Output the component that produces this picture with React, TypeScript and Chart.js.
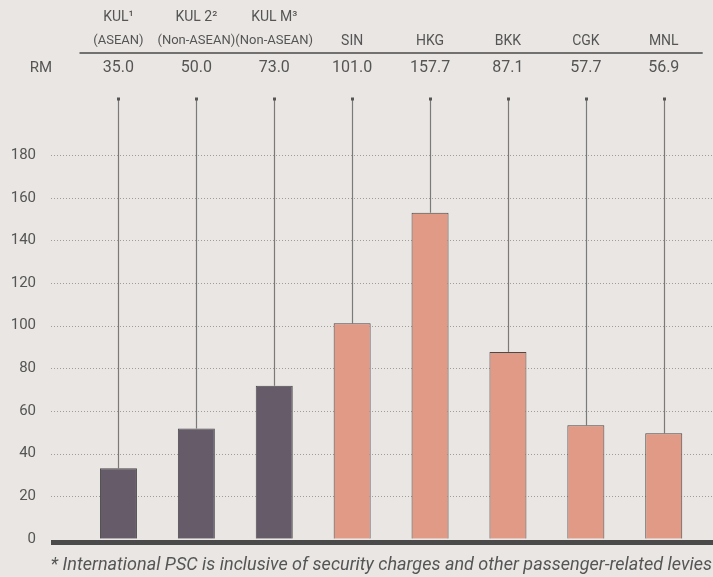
import React, { useEffect, useRef } from "react";
import { Chart, registerables } from "chart.js";

Chart.register(...registerables);

// ---- data ----
const categories = ["KUL1", "KUL2", "KULM", "SIN", "HKG", "BKK", "CGK", "MNL"];
const headerTop = ["KUL¹", "KUL 2²", "KUL M³", "", "", "", "", ""];
const headerSub = ["(ASEAN)", "(Non-ASEAN)", "(Non-ASEAN)", "SIN", "HKG", "BKK", "CGK", "MNL"];
const rmValues = ["35.0", "50.0", "73.0", "101.0", "157.7", "87.1", "57.7", "56.9"];
const barValues = [33.1, 51.7, 71.8, 101.1, 153.0, 87.7, 53.3, 49.5];
const yTicks = [0, 20, 40, 60, 80, 100, 120, 140, 160, 180];
const rowLabel = "RM";
const footnote = "* International PSC is inclusive of security charges and other passenger-related levies";

const DARK = "#655b69";
const SALMON = "#e09a86";
const barColors = [DARK, DARK, DARK, SALMON, SALMON, SALMON, SALMON, SALMON];
const BG = "#e9e6e3";
const TEXT = "#555555";
const FONT = "Roboto, 'Noto Sans', sans-serif";

const decorPlugin = {
  id: "decor",
  beforeDatasetsDraw(chart: any) {
    const { ctx, scales, chartArea, width } = chart;
    const y = scales.y;
    const x = scales.x;
    ctx.save();
    ctx.strokeStyle = "#a09c9a";
    ctx.lineWidth = 1;
    ctx.setLineDash([1, 2]);
    yTicks.forEach((v) => {
      if (v === 0) return;
      const py = Math.round(y.getPixelForValue(v)) + 0.5;
      ctx.beginPath();
      ctx.moveTo(51, py);
      ctx.lineTo(width, py);
      ctx.stroke();
    });
    ctx.setLineDash([]);
    barValues.forEach((v, i) => {
      const px = Math.round(x.getPixelForValue(i)) + 0.5;
      const top = chartArea.top;
      const bot = y.getPixelForValue(v);
      ctx.strokeStyle = "#7a7a7a";
      ctx.lineWidth = 1.2;
      ctx.beginPath();
      ctx.moveTo(px, top);
      ctx.lineTo(px, bot);
      ctx.stroke();
      ctx.fillStyle = "#555";
      ctx.fillRect(px - 1.5, top - 1, 3, 3);
    });
    ctx.restore();
  },
  afterDatasetsDraw(chart: any) {
    const { ctx, scales, chartArea, width } = chart;
    const y = scales.y;
    const x = scales.x;
    ctx.save();
    const py0 = y.getPixelForValue(0);
    ctx.fillStyle = "#4a4a4a";
    ctx.fillRect(51, py0 + 1.2, width - 51, 5);

    ctx.fillStyle = TEXT;
    ctx.textAlign = "center";
    ctx.textBaseline = "middle";
    categories.forEach((c, i) => {
      const px = x.getPixelForValue(i);
      ctx.font = `14px ${FONT}`;
      if (headerTop[i]) ctx.fillText(headerTop[i], px, 17);
      ctx.font = headerTop[i] ? `13px ${FONT}` : `14px ${FONT}`;
      ctx.fillText(headerSub[i], px, 41);
      ctx.font = `16px ${FONT}`;
      ctx.fillText(rmValues[i], px, 68);
    });
    ctx.font = `15px ${FONT}`;
    ctx.fillText(rowLabel, 41, 68);
    ctx.strokeStyle = "#4a4a4a";
    ctx.lineWidth = 1.5;
    ctx.beginPath();
    ctx.moveTo(chartArea.left, 53);
    ctx.lineTo(chartArea.right, 53);
    ctx.stroke();

    let size = 16;
    ctx.font = `italic ${size}px ${FONT}`;
    const w = ctx.measureText(footnote).width;
    size = (size * 662) / w;
    ctx.font = `italic ${size}px ${FONT}`;
    ctx.textAlign = "right";
    ctx.fillStyle = TEXT;
    ctx.fillText(footnote, 712, 565);
    ctx.restore();
  },
};

export default function App() {
  const ref = useRef<HTMLCanvasElement | null>(null);
  useEffect(() => {
    document.body.style.margin = "0";
    document.body.style.background = BG;
    const canvas = ref.current!;
    const chart = new Chart(canvas, {
      type: "bar",
      data: {
        labels: categories,
        datasets: [
          {
            data: barValues,
            backgroundColor: barColors,
            borderColor: "#4a4a4a",
            borderWidth: 1,
            borderSkipped: "bottom",
            categoryPercentage: 1,
            barPercentage: 0.475,
          },
        ],
      },
      options: {
        animation: false,
        responsive: false,
        maintainAspectRatio: false,
        devicePixelRatio: 1,
        layout: { padding: { left: 0, right: 10.3, top: 98.5, bottom: 38.2 } },
        plugins: { legend: { display: false }, tooltip: { enabled: false }, title: { display: false } },
        scales: {
          x: { display: false, offset: true },
          y: {
            min: 0,
            max: 206.6,
            grid: { display: false, drawTicks: false },
            border: { display: false },
            afterBuildTicks: (scale: any) => {
              scale.ticks = yTicks.map((v) => ({ value: v }));
            },
            afterFit: (scale: any) => {
              scale.width = 79.5;
              scale.paddingTop = 0;
              scale.paddingBottom = 0;
            },
            ticks: {
              padding: 43.5,
              color: TEXT,
              font: { family: FONT, size: 15 },
            },
          },
        },
      },
      plugins: [decorPlugin],
    });
    return () => chart.destroy();
  }, []);
  return (
    <div style={{ position: "absolute", left: 0, top: 0, width: 713, height: 577, background: BG }}>
      <canvas ref={ref} width={713} height={577} style={{ width: 713, height: 577, display: "block" }} />
    </div>
  );
}
